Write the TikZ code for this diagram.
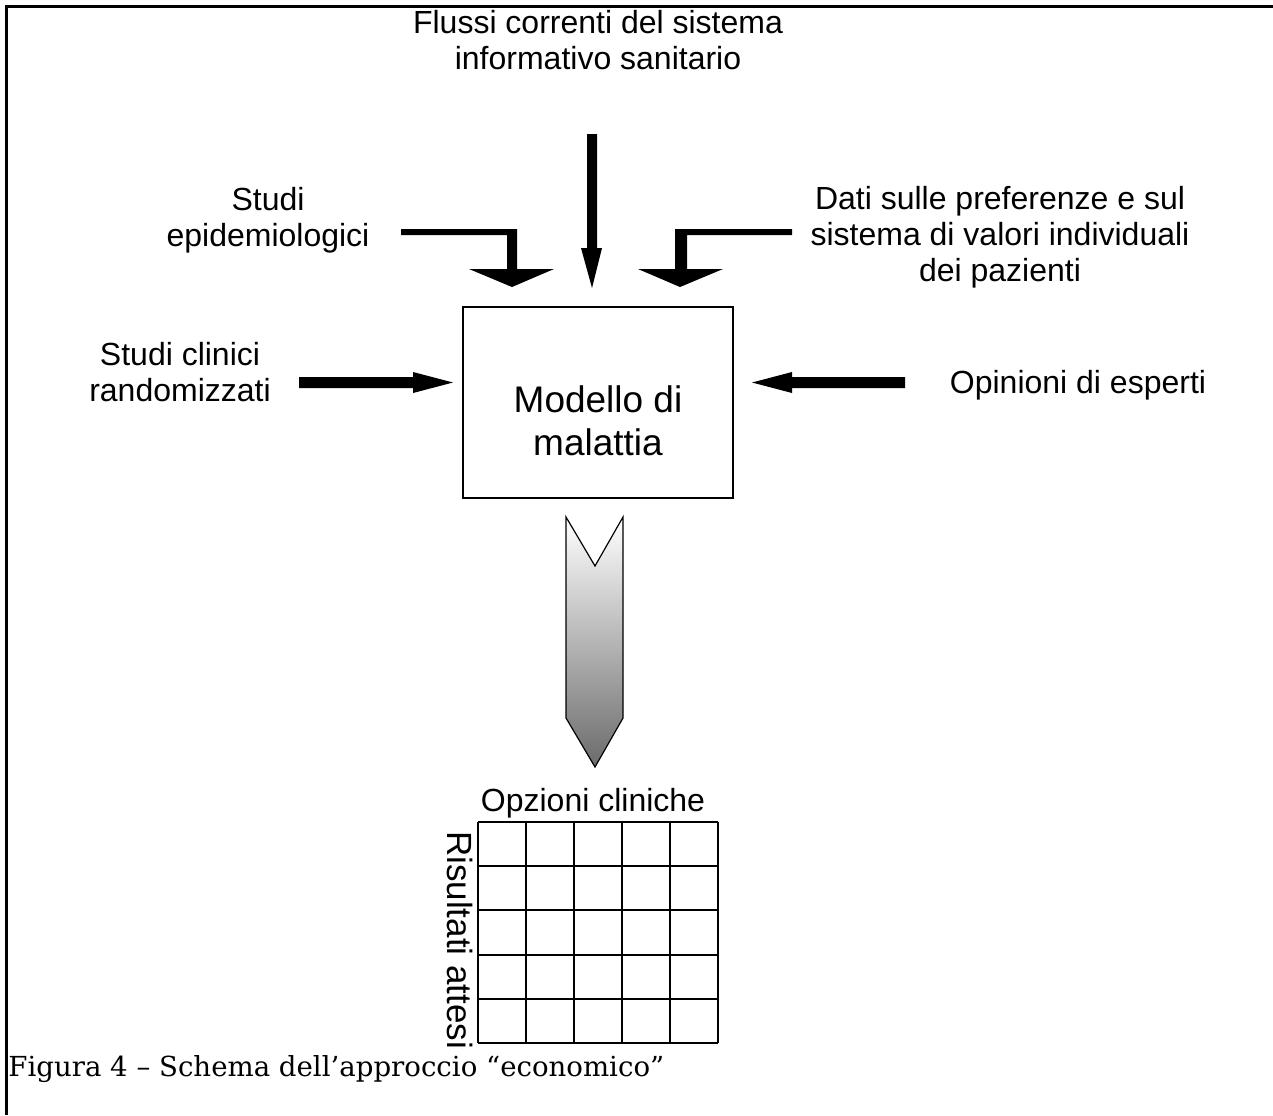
\documentclass[tikz,border=0pt]{standalone}
\usepackage{fontspec}
\setmainfont{Liberation Sans}
\newfontfamily\capfont{DejaVu Serif}
\begin{document}
\begin{tikzpicture}[x=0.5pt,y=-0.5pt,
  lbl/.style={font=\fontsize{16pt}{18pt}\selectfont, align=center, inner sep=0pt},
  blk/.style={fill=black, draw=none},
  gridline/.style={line width=1pt}]
\useasboundingbox (0,0) rectangle (1273,1115);
% frame (top and left)
\draw[line width=1.25pt] (6.5,1115) -- (6.5,6.5) -- (1273,6.5);

% central box
\node[draw, line width=0.75pt, minimum width=135pt, minimum height=95.5pt, inner sep=0pt] (model) at (598,402.5) {};
\node[font=\fontsize{18.5pt}{21.5pt}\selectfont, align=center, inner sep=0pt] (modeltxt) at (598,421) {Modello di\\malattia};

% labels
\node[lbl] (flussi) at (598,40) {Flussi correnti del sistema\\informativo sanitario};
\node[lbl] (epi) at (268,220) {Studi\\epidemiologici};
\node[lbl] (dati) at (1000,237) {Dati sulle preferenze e sul\\sistema di valori individuali\\dei pazienti};
\node[lbl] (rct) at (180,372) {Studi clinici\\randomizzati};
\node[lbl] (esperti) at (1078,385) {Opinioni di esperti};
\node[lbl] (opz) at (593,803) {Opzioni cliniche};
\node[lbl, font=\fontsize{17.5pt}{20pt}\selectfont, rotate=-90] (ris) at (460,940) {Risultati attesi};

% bent arrow left
\fill[blk] (401,229) -- (517,229) -- (517,269) -- (554,269) -- (512,287) -- (469,269) -- (507,269) -- (507,235) -- (401,235) -- cycle;
% bent arrow right
\fill[blk] (792,229) -- (675,229) -- (675,269) -- (638,269) -- (680,287) -- (723,269) -- (687,269) -- (687,235) -- (792,235) -- cycle;
% vertical arrow
\fill[blk] (587,134) -- (597,134) -- (597,248) -- (602,248) -- (592,288) -- (581,248) -- (587,248) -- cycle;
% left horizontal arrow
\fill[blk] (299,377) -- (413,377) -- (413,372) -- (453,382.5) -- (413,393) -- (413,388) -- (299,388) -- cycle;
% right horizontal arrow
\fill[blk] (905,377) -- (792,377) -- (792,372) -- (752,382.5) -- (792,393) -- (792,388) -- (905,388) -- cycle;

% big shaded chevron arrow
\shade[top color=white, bottom color=black!58] (566,517) -- (595,566) -- (623,517) -- (623,718) -- (595,767) -- (566,718) -- cycle;
\draw[line width=0.6pt, line join=miter] (566,517) -- (595,566) -- (623,517) -- (623,718) -- (595,767) -- (566,718) -- cycle;

% grid
\foreach \i in {0,...,5} {
  \draw[gridline] (478+48*\i,822) -- (478+48*\i,1043);
  \draw[gridline] (478,822+44.2*\i) -- (718,822+44.2*\i);
}

% caption
\node[anchor=base west, inner sep=0pt, font=\capfont\fontsize{13.8pt}{16pt}\selectfont] (cap) at (8,1076) {Figura 4 – Schema dell’approccio “economico”};
\end{tikzpicture}
\end{document}
